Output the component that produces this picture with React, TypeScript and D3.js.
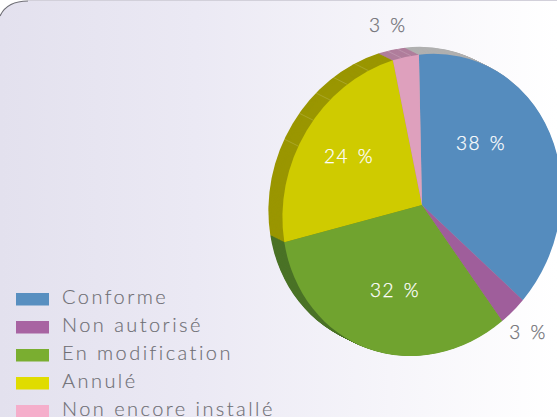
import React, { useEffect } from "react";
import * as d3 from "d3";

const categories = ["Conforme", "Non autorisé", "En modification", "Annulé", "Non encore installé"];
// slice sizes
const sliceValues = [37.5, 3.1, 32.1, 24.3, 3.0];
const sliceLabels = ["38 %", "3 %", "32 %", "24 %", "3 %"];
const colors = ["#558cbe", "#9f5e9b", "#70a32f", "#cfcb00", "#dea0bd"];
const legendColors = ["#588fc0", "#a864a2", "#7aae30", "#e0dc00", "#f5aecb"];
const wallColors = ["#b0b0b0", "#b07e9c", "#4a7226", "#9a9600", "#b07e9c"];
const labelColors = ["#ffffff", "#6f6f75", "#ffffff", "#ffffff", "#6f6f75"];

// labels are not on the slice centres in the original, degrees clockwise from the top
const labelAngles = [45.8, 137.9, 199, 301.9, 348.4];
const labelRadii = [0.59, 1.134, 0.595, 0.616, 1.217];
const seamAngles = [295.2, 306.4, 316.3, 325.2, 335, 349, 353];

const width = 557;
const height = 417;
const cx = 422;
const cy = 205;
const rx = 139.5;
const ry = 151;
const skew = -6; // the pie is a slightly tilted ellipse
const wallX = -14;
const wallY = -7;
const startAngle = (-3.7 * Math.PI) / 180;
const labelFont = "Lato, 'Open Sans', sans-serif";

const rad = (deg: number) => (deg * Math.PI) / 180;

export default function App() {
  useEffect(() => {
    document.body.style.margin = "0";
  }, []);

  const pie = d3
    .pie<number>()
    .value((d) => d)
    .sort(null)
    .startAngle(startAngle)
    .endAngle(startAngle + 2 * Math.PI);
  const arcs = pie(sliceValues);
  const arc = d3.arc<d3.PieArcDatum<number>>().innerRadius(0).outerRadius(1);

  const legendY = d3.scaleLinear().domain([0, 4]).range([293, 405]);
  const wallSteps = d3.range(1, 0, -0.05);
  const tilt = (dx: number, dy: number) =>
    `matrix(${rx},${skew},${skew},${ry},${cx + dx},${cy + dy})`;

  return (
    <svg
      width={width}
      height={height}
      style={{ position: "absolute", left: 0, top: 0 }}
      fontFamily={labelFont}
      fontWeight={300}
    >
      <defs>
        <linearGradient id="bg" x1="0" x2="1" y1="0" y2="0">
          <stop offset="0" stopColor="#e3e1ee" />
          <stop offset="0.35" stopColor="#ebe9f4" />
          <stop offset="0.7" stopColor="#f6f5fa" />
          <stop offset="1" stopColor="#ffffff" />
        </linearGradient>
      </defs>
      <rect width={width} height={height} fill="#ffffff" />
      <path d={`M0,${height}V16Q7,1 28,1H${width}V${height}Z`} fill="url(#bg)" />
      <path d={`M0,16Q7,1 28,1`} fill="none" stroke="#6d6d74" strokeWidth={1.2} />
      <path d={`M28,0.5H${width}`} fill="none" stroke="#d2d0da" strokeWidth={1} />

      {/* side wall: the same pie stacked towards the upper left */}
      {wallSteps.map((t) => (
        <g key={t} transform={tilt(wallX * t, wallY * t)}>
          {arcs.map((d, i) => (
            <path key={i} d={arc(d) ?? ""} fill={wallColors[i]} />
          ))}
        </g>
      ))}

      {seamAngles.map((a) => {
        const [u, v] = d3.pointRadial(rad(a), 1);
        const x = cx + rx * u + skew * v;
        const y = cy + skew * u + ry * v;
        return (
          <line
            key={a}
            x1={x}
            y1={y}
            x2={x + wallX}
            y2={y + wallY}
            stroke="#ffffff"
            strokeOpacity={0.22}
            strokeWidth={0.7}
          />
        );
      })}

      <g transform={tilt(0, 0)}>
        {arcs.map((d, i) => (
          <path key={i} d={arc(d) ?? ""} fill={colors[i]} />
        ))}
      </g>

      {sliceLabels.map((label, i) => {
        const [u, v] = d3.pointRadial(rad(labelAngles[i]), labelRadii[i]);
        return (
          <text
            key={i}
            x={cx + u * rx}
            y={cy + v * ry + 7}
            textAnchor="middle"
            fontSize={19}
            letterSpacing={1.5}
            wordSpacing={2}
            fill={labelColors[i]}
            stroke={labelColors[i]}
            strokeWidth={0.25}
          >
            {label}
          </text>
        );
      })}

      {categories.map((name, i) => (
        <g key={name} transform={`translate(0,${legendY(i)})`}>
          <rect x={16} width={33} height={12.5} fill={legendColors[i]} />
          <text
            x={62}
            y={11}
            fontSize={20}
            letterSpacing={2.45}
            fill="#6f6f75"
            stroke="#6f6f75"
            strokeWidth={0.15}
          >
            {name}
          </text>
        </g>
      ))}
    </svg>
  );
}
